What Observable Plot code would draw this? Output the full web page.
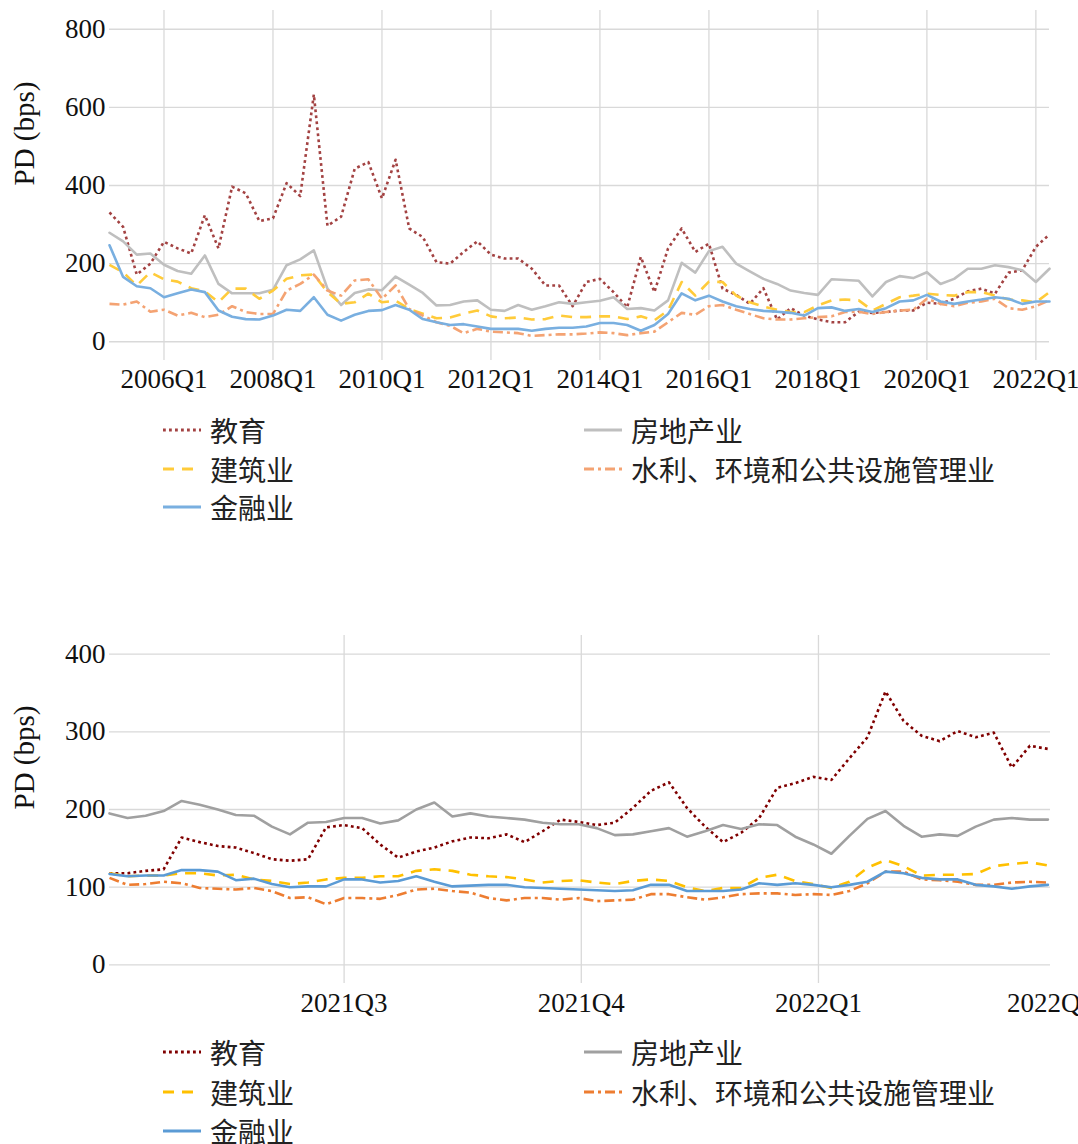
<!DOCTYPE html>
<html>
<head>
<meta charset="utf-8">
<script src="https://cdn.jsdelivr.net/npm/d3@7"></script>
<script src="https://cdn.jsdelivr.net/npm/@observablehq/plot@0.6"></script>
<style>
  body { margin: 0; background: #fff; }
  #page { position: relative; width: 1078px; height: 1144px; overflow: hidden; background: #fff; }
  .chart { position: absolute; left: 0; }
  .chart svg text { font-family: "Liberation Serif", "Times New Roman", serif !important; }
  .legend { position: absolute; left: 0; top: 0; width: 1078px; height: 1144px; pointer-events: none;
            font-family: "Noto Sans CJK SC", sans-serif; font-size: 28px; letter-spacing: 0px; color: #222; }
  .item { position: absolute; display: flex; align-items: center; height: 38px; line-height: 38px; white-space: nowrap; }
  .item svg { margin-right: 9px; flex: none; }
</style>
</head>
<body>
<div id="page">
  <div id="top" class="chart" style="top:0px"></div>
  <div id="bottom" class="chart" style="top:600px"></div>
  <div id="legend" class="legend"></div>
</div>
<script>
// ---------------- Top chart: quarterly ----------------
const quarters = [
  "2005Q1","2005Q2","2005Q3","2005Q4","2006Q1","2006Q2","2006Q3","2006Q4",
  "2007Q1","2007Q2","2007Q3","2007Q4","2008Q1","2008Q2","2008Q3","2008Q4",
  "2009Q1","2009Q2","2009Q3","2009Q4","2010Q1","2010Q2","2010Q3","2010Q4",
  "2011Q1","2011Q2","2011Q3","2011Q4","2012Q1","2012Q2","2012Q3","2012Q4",
  "2013Q1","2013Q2","2013Q3","2013Q4","2014Q1","2014Q2","2014Q3","2014Q4",
  "2015Q1","2015Q2","2015Q3","2015Q4","2016Q1","2016Q2","2016Q3","2016Q4",
  "2017Q1","2017Q2","2017Q3","2017Q4","2018Q1","2018Q2","2018Q3","2018Q4",
  "2019Q1","2019Q2","2019Q3","2019Q4","2020Q1","2020Q2","2020Q3","2020Q4",
  "2021Q1","2021Q2","2021Q3","2021Q4","2022Q1","2022Q2"
];
const topTickLabels = ["2006Q1","2008Q1","2010Q1","2012Q1","2014Q1","2016Q1","2018Q1","2020Q1","2022Q1"];
const topYTicks = [0, 200, 400, 600, 800];

const eduTop = [331,294,172,200,256,239,226,324,239,397,380,309,316,406,373,633,297,320,443,460,367,466,290,268,
                204,200,230,257,223,213,213,187,144,144,91,153,161,127,88,217,127,239,290,230,251,136,
                120,97,137,57,86,67,57,50,50,77,74,76,80,80,100,97,110,129,136,123,177,183,243,275];
const reTop  = [279,257,223,226,197,181,174,221,148,124,124,124,133,196,211,234,136,94,125,134,132,167,146,125,
                93,94,103,106,82,79,94,82,91,101,97,101,105,114,84,86,80,106,202,177,232,243,
                200,180,161,148,131,125,120,160,158,156,116,153,168,163,178,148,161,187,187,196,191,183,153,187];
const consTop = [197,178,144,178,160,154,137,129,101,136,136,110,131,161,170,172,127,97,101,123,101,105,84,72,
                60,62,72,80,65,60,62,57,58,67,63,63,65,65,58,65,55,80,153,118,154,153,
                118,101,90,82,76,76,93,106,108,106,80,97,114,118,123,120,118,127,127,118,108,106,101,127];
const watTop = [97,95,103,77,82,67,74,63,69,91,76,71,71,131,148,172,131,118,157,160,110,144,84,67,
                50,41,22,33,26,24,22,15,17,19,19,21,24,22,17,22,26,50,74,69,91,94,
                82,71,60,57,57,60,63,65,76,77,71,76,80,82,110,97,91,100,103,110,86,82,91,106];
const finTop = [247,166,142,137,114,124,134,127,80,64,58,57,67,82,79,114,69,54,69,79,81,94,82,58,
                50,43,45,39,33,33,33,28,33,36,36,39,48,48,43,28,43,71,124,106,118,103,
                91,84,79,77,74,67,86,88,79,84,76,86,103,106,120,103,97,103,108,114,110,97,103,103];

// ---------------- Bottom chart: weekly ----------------
const dates = [
  "2021-04-01","2021-04-08","2021-04-15","2021-04-22","2021-04-29","2021-05-06","2021-05-13","2021-05-20","2021-05-27",
  "2021-06-03","2021-06-10","2021-06-17","2021-06-24","2021-07-01","2021-07-08","2021-07-15","2021-07-22","2021-07-29",
  "2021-08-05","2021-08-12","2021-08-19","2021-08-26","2021-09-02","2021-09-09","2021-09-16","2021-09-23","2021-09-30",
  "2021-10-07","2021-10-14","2021-10-21","2021-10-28","2021-11-04","2021-11-11","2021-11-18","2021-11-25",
  "2021-12-02","2021-12-09","2021-12-16","2021-12-23","2021-12-30","2022-01-06","2022-01-13","2022-01-20","2022-01-27",
  "2022-02-03","2022-02-10","2022-02-17","2022-02-24","2022-03-03","2022-03-10","2022-03-17","2022-03-24","2022-03-31"
];
const bottomTickDates = ["2021-07-01","2021-10-01","2022-01-01","2022-04-01"];
const bottomTickLabels = ["2021Q3","2021Q4","2022Q1","2022Q2"];
const bottomGridDates = ["2021-07-01","2021-10-01","2022-01-01"];
const bottomYTicks = [0, 100, 200, 300, 400];

const eduBot = [118,118,121,123,164,158,153,151,144,136,134,136,177,180,176,155,138,146,
                151,159,164,163,168,158,172,187,184,180,183,202,224,235,202,178,158,
                170,189,228,234,242,238,266,293,352,314,295,288,301,293,299,254,282,278];
const reBot  = [195,189,192,198,211,206,200,193,192,178,168,183,184,189,189,182,186,200,
                209,191,195,191,189,187,183,181,181,176,167,168,172,176,165,172,180,
                175,181,180,165,155,143,166,188,198,179,165,168,166,178,187,189,187,187];
const consBot = [118,114,115,115,118,118,115,116,110,108,104,106,110,112,112,114,114,121,
                123,121,116,114,113,110,106,108,109,106,104,108,110,108,100,95,99,
                99,112,116,108,104,99,107,125,135,127,115,116,116,117,127,130,132,128];
const watBot = [112,103,104,107,105,99,98,97,99,95,86,87,78,86,86,85,90,97,
                98,95,93,86,83,86,86,84,86,82,83,84,91,91,87,84,87,
                91,92,92,90,91,90,95,105,120,120,110,109,107,103,103,106,107,106];
const finBot = [117,114,115,115,122,122,120,109,111,104,100,101,101,110,110,106,108,114,
                107,101,102,103,103,100,99,98,97,96,95,96,103,103,95,95,95,
                97,105,103,105,103,100,103,107,120,118,112,110,110,103,101,98,101,103];

const seriesNames = ["教育", "房地产业", "建筑业", "水利、环境和公共设施管理业", "金融业"];
const dashes = ["2.8,3.2", null, "11,8", "10,4,3,4", null];
const topColors = ["#a34242", "#bfbfbf", "#ffcb3a", "#f4a373", "#79afe0"];
const botColors = ["#800000", "#a0a0a0", "#ffc000", "#ed7d31", "#5b9bd5"];
const topValues = [eduTop, reTop, consTop, watTop, finTop];
const botValues = [eduBot, reBot, consBot, watBot, finBot];

const qx = s => +s.slice(0, 4) + (+s.slice(5) - 1) / 4;
const topTickMap = new Map(topTickLabels.map(s => [qx(s), s]));
const botTickMap = new Map(bottomTickDates.map((s, i) => [+new Date(s), bottomTickLabels[i]]));

const SERIF = "Liberation Serif";
const gridStyle = {stroke: "#d9d9d9", strokeOpacity: 1, strokeWidth: 1.3};
const axisText = {fontFamily: SERIF, fontSize: 27, fill: "#111"};

function lineMarks(xs, valuesList, colors) {
  return valuesList.map((vals, i) => {
    const rows = vals.map((v, j) => ({x: xs[j], y: v}));
    return Plot.line(rows, {
      x: "x", y: "y", stroke: colors[i], strokeWidth: 2.6,
      strokeDasharray: dashes[i] || undefined,
      strokeLinecap: dashes[i] ? "butt" : "round",
      strokeLinejoin: "round"
    });
  });
}

const commonStyle = {fontFamily: SERIF, fontSize: "27px", color: "#111", background: "white", overflow: "hidden"};

const topPlot = Plot.plot({
  width: 1078, height: 400,
  marginLeft: 109, marginRight: 29, marginTop: 10, marginBottom: 40,
  style: commonStyle,
  x: {type: "linear", domain: [2005, 2022.25]},
  y: {domain: [-48, 848]},
  marks: [
    Plot.gridY(topYTicks, gridStyle),
    Plot.gridX(topTickLabels.map(qx), gridStyle),
    Plot.axisY(topYTicks, {tickSize: 0, tickPadding: 4, label: null, ...axisText}),
    Plot.axisX(topTickLabels.map(qx), {tickSize: 0, tickPadding: 8, label: null, ...axisText, tickFormat: d => topTickMap.get(d)}),
    ...lineMarks(quarters.map(qx), topValues, topColors),
    Plot.text(["PD (bps)"], {text: d => d, frameAnchor: "left", rotate: -90, dx: -85, fontSize: 29, fontFamily: SERIF, fill: "#111"})
  ]
});
document.getElementById("top").appendChild(topPlot);

const botPlot = Plot.plot({
  width: 1078, height: 430,
  marginLeft: 109, marginRight: 28, marginTop: 35, marginBottom: 47,
  style: commonStyle,
  x: {type: "utc", domain: [new Date("2021-04-01"), new Date("2022-04-01")]},
  y: {domain: [-24, 424]},
  marks: [
    Plot.gridY(bottomYTicks, gridStyle),
    Plot.gridX(bottomGridDates.map(s => new Date(s)), gridStyle),
    Plot.axisY(bottomYTicks, {tickSize: 0, tickPadding: 4, label: null, ...axisText}),
    Plot.axisX(bottomTickDates.map(s => new Date(s)), {tickSize: 0, tickPadding: 9, label: null, ...axisText, tickFormat: d => botTickMap.get(+d)}),
    ...lineMarks(dates.map(s => new Date(s)), botValues, botColors),
    Plot.text(["PD (bps)"], {text: d => d, frameAnchor: "left", rotate: -90, dx: -85, fontSize: 29, fontFamily: SERIF, fill: "#111"})
  ]
});
document.getElementById("bottom").appendChild(botPlot);

// ---------------- Legends ----------------
const legendLayout = [
  {i: 0, col: 0, row: 0}, {i: 1, col: 1, row: 0},
  {i: 2, col: 0, row: 1}, {i: 3, col: 1, row: 1},
  {i: 4, col: 0, row: 2}
];
const colLeft = [163, 584];
function drawLegend(rowCenters, colors) {
  const host = document.getElementById("legend");
  legendLayout.forEach(({i, col, row}) => {
    const div = document.createElement("div");
    div.className = "item";
    div.style.left = colLeft[col] + "px";
    div.style.top = (rowCenters[row] - 19) + "px";
    const ns = "http://www.w3.org/2000/svg";
    const svg = document.createElementNS(ns, "svg");
    svg.setAttribute("width", 38); svg.setAttribute("height", 8);
    const ln = document.createElementNS(ns, "line");
    ln.setAttribute("x1", 0); ln.setAttribute("x2", 38);
    ln.setAttribute("y1", 4); ln.setAttribute("y2", 4);
    ln.setAttribute("stroke", colors[i]);
    ln.setAttribute("stroke-width", 3);
    if (dashes[i]) ln.setAttribute("stroke-dasharray", dashes[i]);
    svg.appendChild(ln);
    div.appendChild(svg);
    const span = document.createElement("span");
    span.textContent = seriesNames[i];
    div.appendChild(span);
    host.appendChild(div);
  });
}
drawLegend([430, 468.5, 507], topColors);
drawLegend([1052, 1092, 1131], botColors);
</script>
</body>
</html>
